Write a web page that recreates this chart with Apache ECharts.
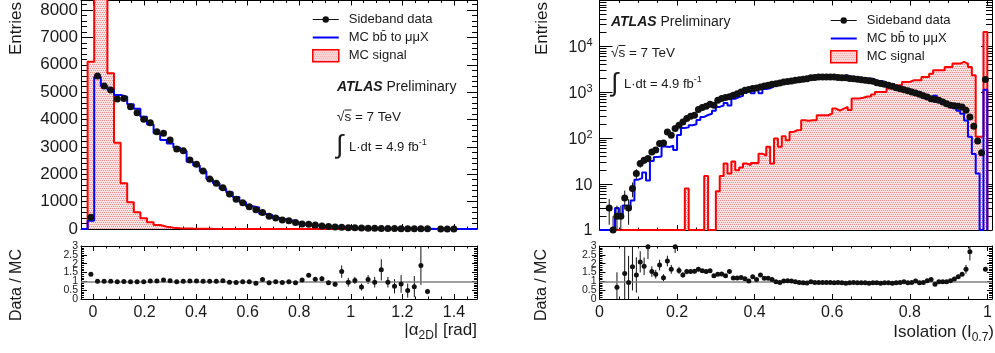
<!DOCTYPE html>
<html lang="en">
<head>
<meta charset="utf-8">
<title>ATLAS Preliminary - sideband data vs MC</title>
<script src="https://cdn.jsdelivr.net/npm/echarts@6.0.0/dist/echarts.min.js"></script>
<style>
  html, body { margin: 0; padding: 0; background: #fff; }
  #chart { width: 995px; height: 353px; }
</style>
</head>
<body>
<div id="chart"></div>
<script>
// ---- left panel: |alpha_2D| [rad], 60 bins spanning the frame ----
const L_MIN = -0.0465;
const L_MAX = 1.4895;
const L_BIN = 0.0256;
const leftXLabels = [0, 0.2, 0.4, 0.6, 0.8, 1, 1.2, 1.4];
const leftData = [
  null, 426, 5590, 5224, 5077, 4749, 4773, 4469, 4250, 4006,
  3884, 3556, 3495, 3251, 2922, 2861, 2520, 2362, 2119, 1826,
  1668, 1510, 1278, 1084, 962, 816, 700, 600, 470, 400,
  330, 300, 235, 185, 170, 145, 110, 90, 75, 60,
  50, 42, 35, 30, 25, 20, 18, 15, 12, 10,
  8, 6, 5, null, 3, 3, 2, null, null, null
];
const leftMC = [
  0, 305, 5560, 5230, 5080, 4900, 4830, 4560, 4390, 4100,
  3820, 3500, 3250, 3120, 2980, 2850, 2460, 2320, 2110, 1830,
  1670, 1470, 1340, 1170, 990, 830, 790, 545, 510, 412,
  355, 310, 255, 171, 126, 129, 96, 98, 90, 39,
  53, 40, 51, 27, 26, 12, 19, 21, 14, 21,
  11, 3, 12, 0, 0, 0, 0, 0, 0, 0
];
const leftSignal = [
  0, 6110, 12000, 10500, 5690, 3150, 1670, 975, 610, 390,
  245, 146, 85, 50, 30, 20, 14, 10, 7, 5,
  4, 3, 2, 2, 1, 1, 0, 0, 0, 0,
  0, 0, 0, 0, 0, 0, 0, 0, 0, 0,
  0, 0, 0, 0, 0, 0, 0, 0, 0, 0,
  0, 0, 0, 0, 0, 0, 0, 0, 0, 0
];
const leftRatio = [
  null, 1.40, 1.0, 1.0, 1.0, 0.97, 0.99, 0.98, 0.97, 0.98,
  1.02, 1.02, 1.08, 1.04, 0.98, 1.0, 1.02, 1.02, 1.0, 1.0,
  1.0, 1.03, 0.95, 0.93, 0.97, 0.98, 0.89, 1.1, 0.92, 0.97,
  0.93, 0.97, 0.92, 1.08, 1.35, 1.12, 1.15, 0.92, 0.83, 1.55,
  0.95, 1.05, 0.68, 1.1, 0.95, 1.65, 0.95, 0.72, 0.85, 0.48,
  0.7, 1.9, 0.42, null, null, null, null, null, null, null
];
const leftRatioErr = [
  null, 0.08, 0.02, 0.02, 0.02, 0.02, 0.02, 0.02, 0.02, 0.02,
  0.02, 0.02, 0.03, 0.03, 0.03, 0.03, 0.03, 0.03, 0.03, 0.03,
  0.04, 0.04, 0.04, 0.04, 0.05, 0.05, 0.05, 0.06, 0.06, 0.07,
  0.07, 0.08, 0.08, 0.1, 0.1, 0.12, 0.15, 0.12, 0.12, 0.35,
  0.25, 0.2, 0.2, 0.25, 0.3, 0.6, 0.3, 0.4, 0.5, 0.4,
  0.6, 1.1, 0.15, null, null, null, null, null, null, null
];

// ---- right panel: isolation I_0.7, bins of 0.01 ----
const R_MIN = 0;
const R_MAX = 1.012;
const R_BIN = 0.01;
const rightXLabels = [0, 0.2, 0.4, 0.6, 0.8, 1];
const rightData = [
  null, null, 3, 1, 2, 2, 5, 3, 8, 17,
  28, 33, 36, 50, 55, 77, 79, 137, 116, 162,
  192, 226, 267, 300, 316, 420, 464, 496, 548, 522,
  672, 731, 770, 795, 862, 933, 1010, 1105, 1150, 1203,
  1240, 1300, 1374, 1430, 1493, 1540, 1596, 1679, 1720, 1763,
  1830, 1884, 1930, 1983, 2084, 2110, 2154, 2150, 2154, 2160,
  2154, 2090, 2084, 2084, 2000, 1983, 1930, 1884, 1823, 1780,
  1735, 1622, 1560, 1493, 1420, 1350, 1262, 1200, 1143, 1080,
  1016, 960, 905, 840, 793, 728, 700, 670, 616, 560,
  521, 510, 496, 480, 406, 290, 182, 87, 48, 1910
];
const rightDataErr = [
  0, 0, 1.7, 1, 1.4, 1.4, 2.2, 1.7, 2.8, 4.1,
  5.3, 5.7, 6, 7, 7.4, 8.8, 8.9, 11.7, 10.8, 12.7,
  13.9, 15, 16.3, 17.3, 17.8
];
const rightMC = [
  1, 1, 1, 1, 3, 2, 3.4, 3.2, 4.4, 12.5,
  13.5, 18, 12, 32, 39, 40, 66, 64, 69, 55,
  118, 166, 172, 192, 201, 250, 290, 320, 342, 395,
  480, 515, 583, 513, 724, 784, 835, 961, 1127, 955,
  1117, 956, 1174, 1222, 1345, 1571, 1698, 1646, 1654, 1728,
  1867, 2004, 2098, 2179, 2126, 2245, 2291, 2287, 2291, 2298,
  2341, 2223, 2265, 2342, 2174, 2110, 2098, 2048, 1982, 2000,
  1886, 1763, 1753, 1623, 1543, 1517, 1372, 1277, 1166, 1174,
  1081, 941, 984, 894, 763, 656, 843, 684, 629, 571,
  501, 451, 394, 343, 242, 108, 45, 17, 1, 1137
];
const rightSignal = [
  1, 1, 1, 1, 1, 1, 1, 1, 1, 1,
  1, 1, 1, 1, 1, 1, 1, 1, 1, 1,
  1, 1, 8, 1, 1, 1, 1, 15, 1, 1,
  7, 15, 28, 17, 31, 20, 23, 28, 26, 29,
  29, 46, 42, 65, 28, 98, 65, 110, 90, 137,
  149, 150, 245, 240, 245, 245, 316, 316, 316, 345,
  441, 400, 441, 480, 410, 730, 730, 760, 808, 808,
  900, 1016, 1016, 1016, 1203, 1203, 1430, 1430, 1680, 1680,
  1823, 1823, 1823, 2154, 2154, 2540, 3010, 3010, 3010, 3570,
  3570, 4230, 4230, 4600, 4230, 3570, 2360, 107, 107, 20600
];
const rightRatio = [
  null, null, null, null, 0.66, null, 1.45, 0.94, 1.83, 1.36,
  2.1, 1.85, 2.96, 1.55, 1.4, 1.92, 1.2, 2.15, 1.68, 2.96,
  1.62, 1.36, 1.55, 1.56, 1.57, 1.68, 1.60, 1.55, 1.60, 1.32,
  1.40, 1.42, 1.32, 1.55, 1.19, 1.19, 1.21, 1.15, 1.02, 1.26,
  1.11, 1.36, 1.17, 1.17, 1.11, 0.98, 0.94, 1.02, 1.04, 1.02,
  0.98, 0.94, 0.92, 0.91, 0.98, 0.94, 0.94, 0.94, 0.94, 0.94,
  0.92, 0.94, 0.92, 0.89, 0.92, 0.94, 0.92, 0.92, 0.92, 0.89,
  0.92, 0.92, 0.89, 0.92, 0.92, 0.89, 0.92, 0.94, 0.98, 0.92,
  0.94, 1.02, 0.92, 0.94, 1.04, 1.11, 0.83, 0.98, 0.98, 0.98,
  1.04, 1.13, 1.26, 1.4, 1.68, 2.68, null, null, null, 1.68
];
const rightRatioErr = [
  null, null, null, null, 0.85, null, 1.6, 1.5, 1.35, 1.0,
  0.6, 0.5, 0.7, 0.3, 0.25, 0.3, 0.2, 0.3, 0.25, 0.35,
  0.2, 0.15, 0.15, 0.12, 0.12, 0.1, 0.1, 0.1, 0.09, 0.08,
  0.08, 0.08, 0.07, 0.07, 0.06, 0.06, 0.05, 0.05, 0.05, 0.05,
  0.04, 0.04, 0.04, 0.04, 0.04, 0.04, 0.04, 0.04, 0.04, 0.04,
  0.03, 0.03, 0.03, 0.03, 0.03, 0.03, 0.03, 0.03, 0.03, 0.03,
  0.03, 0.03, 0.03, 0.03, 0.03, 0.03, 0.03, 0.03, 0.03, 0.03,
  0.03, 0.03, 0.03, 0.03, 0.03, 0.03, 0.03, 0.03, 0.03, 0.03,
  0.03, 0.03, 0.03, 0.03, 0.03, 0.03, 0.03, 0.03, 0.03, 0.03,
  0.04, 0.04, 0.04, 0.04, 0.25, 0.5, null, null, null, 0.06
];
const ratioYLabels = [0, 0.5, 1, 1.5, 2, 2.5, 3];

const FONT = '"Liberation Sans", Arial, Helvetica, sans-serif';
const INK = '#000';
const TEXT = '#1a1a1a';
const RED = '#ff0000';
const BLUE = '#0000ff';
const DOT = '#111';
const MC_NAME = 'MC bb\u0304 to \u03bc\u03bcX';

function binEdges(min, width, n) {
  const e = [];
  for (let i = 0; i <= n; i++) e.push(min + i * width);
  return e;
}

function binCenters(edges) {
  return edges.slice(0, -1).map(function (e, i) { return (e + edges[i + 1]) / 2; });
}

// tick positions only (frame decoration)
function tickRange(min, max, step) {
  const out = [];
  for (let i = Math.ceil(min / step - 1e-9); i * step <= max + 1e-9; i++) out.push(+(i * step).toFixed(4));
  return out;
}

const leftEdges = binEdges(L_MIN, L_BIN, leftMC.length);
const leftCenters = binCenters(leftEdges);
const rightEdges = binEdges(R_MIN, R_BIN, rightMC.length);
const rightCenters = binCenters(rightEdges);

const logMinor = [];
for (let d = 1; d < 1e5; d *= 10) {
  for (let m = 2; m <= 9; m++) logMinor.push(m * d);
}

// ROOT-like dotted pink fill
function hatchPattern() {
  const c = document.createElement('canvas');
  c.width = 4;
  c.height = 4;
  const g = c.getContext('2d');
  g.fillStyle = '#fde3e3';
  g.fillRect(0, 0, 4, 4);
  g.fillStyle = '#ee8a8a';
  g.fillRect(0, 0, 1, 1);
  g.fillRect(2, 0, 1, 1);
  g.fillRect(1, 2, 1, 1);
  g.fillRect(3, 2, 1, 1);
  return { image: c, repeat: 'repeat' };
}
const SIGNAL_FILL = hatchPattern();

// ---- axes: every frame edge carries inward ticks ----
const xAxes = [];
const yAxes = [];

function axisBase(type, grid, position, min, max) {
  return {
    type: type,
    gridIndex: grid,
    position: position,
    min: min,
    max: max,
    axisLine: { show: true, onZero: false, lineStyle: { color: INK, width: 1 } },
    axisTick: { show: false },
    axisLabel: { show: false },
    splitLine: { show: false }
  };
}

function ticks(length, values) {
  const t = { show: true, inside: true, length: length, lineStyle: { color: INK, width: 1 } };
  if (values) t.customValues = values;
  return t;
}

function addXFrame(grid, min, max, major, minor, labels) {
  const first = xAxes.length;
  ['bottom', 'top'].forEach(function (pos) {
    const a = axisBase('value', grid, pos, min, max);
    a.axisTick = ticks(5, major);
    if (labels && pos === 'bottom') {
      a.axisLabel = { show: true, customValues: labels, margin: 6, color: TEXT, fontFamily: FONT, fontSize: 16 };
    }
    const b = axisBase('value', grid, pos, min, max);
    b.axisLine = { show: false, onZero: false };
    b.axisTick = ticks(2.5, minor);
    xAxes.push(a, b);
  });
  return first;
}

function yLabel(cfg, values) {
  const l = Object.assign({ show: true, color: TEXT, fontFamily: FONT, hideOverlap: false }, cfg.label);
  if (values) l.customValues = values;
  return l;
}

function addYFrame(grid, cfg) {
  const first = yAxes.length;
  ['left', 'right'].forEach(function (pos, side) {
    const a = axisBase(cfg.type, grid, pos, cfg.min, cfg.max);
    a.axisTick = ticks(cfg.major[side]);
    if (cfg.interval) a.interval = cfg.interval;
    if (cfg.minorSplit) {
      a.minorTick = { show: true, splitNumber: cfg.minorSplit, length: cfg.minor[side], lineStyle: { color: INK, width: 1 } };
    }
    if (side === 0) a.axisLabel = yLabel(cfg, cfg.labelSets ? cfg.labelSets[0] : null);
    yAxes.push(a);
    if (cfg.minorValues) {
      const b = axisBase(cfg.type, grid, pos, cfg.min, cfg.max);
      b.axisLine = { show: false, onZero: false };
      b.axisTick = ticks(cfg.minor[side], cfg.minorValues);
      yAxes.push(b);
    }
    // second set of labels on an overlaid axis, so crowded labels are all kept
    if (side === 0 && cfg.labelSets) {
      const c = axisBase(cfg.type, grid, pos, cfg.min, cfg.max);
      c.axisLine = { show: false, onZero: false };
      c.axisLabel = yLabel(cfg, cfg.labelSets[1]);
      yAxes.push(c);
    }
  });
  return first;
}

function plainLabel(v) {
  return String(v);
}

function logLabel(v) {
  const p = Math.round(Math.log10(v));
  return p < 2 ? '{b|' + v + '}' : '{b|10}{sup|' + p + '}';
}

const leftMinor = tickRange(L_MIN, L_MAX, 0.05);
const rightMinor = tickRange(R_MIN, R_MAX, 0.05);

const lxMain = addXFrame(0, L_MIN, L_MAX, leftXLabels, leftMinor, null);
const lxRatio = addXFrame(1, L_MIN, L_MAX, leftXLabels, leftMinor, leftXLabels);
const rxMain = addXFrame(2, R_MIN, R_MAX, rightXLabels, rightMinor, null);
const rxRatio = addXFrame(3, R_MIN, R_MAX, rightXLabels, rightMinor, rightXLabels);

const ratioFrame = {
  type: 'value', min: 0, max: 3, interval: 0.5, minorSplit: 5, major: [6, 5], minor: [3, 3],
  labelSets: [
    ratioYLabels.filter(function (v) { return v % 1 === 0; }),
    ratioYLabels.filter(function (v) { return v % 1 !== 0; })
  ],
  label: { fontSize: 10.5, margin: 3, formatter: plainLabel, showMinLabel: true, showMaxLabel: true }
};
const lyMain = addYFrame(0, {
  type: 'value', min: 0, max: 8350, interval: 1000, minorSplit: 5, major: [12, 10], minor: [6, 5],
  label: { fontSize: 17, margin: 3, showMaxLabel: false, formatter: plainLabel }
});
const lyRatio = addYFrame(1, ratioFrame);
const ryMain = addYFrame(2, {
  type: 'log', min: 1, max: 100000, major: [13, 11], minor: [7, 6], minorValues: logMinor,
  label: {
    margin: 7, showMaxLabel: false, formatter: logLabel,
    rich: {
      b: { fontSize: 16, fontFamily: FONT, color: TEXT, verticalAlign: 'bottom', lineHeight: 18 },
      sup: { fontSize: 11, fontFamily: FONT, color: TEXT, verticalAlign: 'top', lineHeight: 11, padding: [0, 0, 9, 0] }
    }
  }
});
const ryRatio = addYFrame(3, ratioFrame);

// ---- series ----
function histogram(name, xi, yi, edges, values, floor, color, fill, z) {
  const pts = values.map(function (v, i) { return [edges[i], v]; });
  pts.push([edges[values.length], floor]);
  const s = {
    name: name, type: 'line', xAxisIndex: xi, yAxisIndex: yi, step: 'end', data: pts,
    symbol: 'none', clip: true, z: z,
    lineStyle: { color: color, width: 2 }, itemStyle: { color: color }
  };
  if (fill) s.areaStyle = { color: fill, opacity: 1 };
  return s;
}

function markers(name, xi, yi, centers, values, size, extra) {
  const pts = [];
  values.forEach(function (v, i) { if (v != null) pts.push([centers[i], v]); });
  return Object.assign({
    name: name, type: 'scatter', xAxisIndex: xi, yAxisIndex: yi, data: pts,
    symbol: 'circle', symbolSize: size, clip: true, z: 5, itemStyle: { color: DOT, opacity: 1 }
  }, extra);
}

function errorBars(xi, yi, centers, values, errs, floor) {
  const rows = [];
  values.forEach(function (v, i) { if (v != null && errs[i]) rows.push([centers[i], v, errs[i]]); });
  return {
    type: 'custom', xAxisIndex: xi, yAxisIndex: yi, data: rows, clip: true, silent: true, z: 4,
    renderItem: function (params, api) {
      const x = api.value(0), y = api.value(1), e = api.value(2);
      const hi = api.coord([x, y + e]);
      const lo = api.coord([x, Math.max(y - e, floor)]);
      return {
        type: 'line',
        shape: { x1: hi[0], y1: hi[1], x2: lo[0], y2: lo[1] },
        style: { stroke: DOT, lineWidth: 1 }
      };
    }
  };
}

const ratioLine = {
  silent: true, symbol: 'none', label: { show: false },
  lineStyle: { color: '#808080', width: 1.5, type: 'solid' },
  data: [{ yAxis: 1 }]
};

const legendBase = {
  orient: 'vertical', itemWidth: 26, itemHeight: 12, itemGap: 5, selectedMode: false,
  itemStyle: { borderWidth: 0 },
  textStyle: { fontSize: 13, fontFamily: FONT, color: TEXT, padding: [0, 0, 0, 5] },
  data: [
    { name: 'Sideband data', icon: 'path://M0,5.4h9.9v1.2H0z M16.1,5.4H26v1.2H16.1z M9.8,6a3.2,3.2 0 1,1 6.4,0a3.2,3.2 0 1,1 -6.4,0z' },
    { name: MC_NAME, icon: 'path://M0,0h26v2H0z' },
    { name: 'MC signal', icon: 'rect', itemStyle: { color: SIGNAL_FILL, borderColor: RED, borderWidth: 1.5 } }
  ]
};

// ---- free text ----
function txt(x, y, text, style, rotation) {
  return {
    type: 'text', x: x, y: y, rotation: rotation || 0, silent: true,
    style: Object.assign({ text: text, fill: TEXT, fontFamily: FONT, fontSize: 13, align: 'left', verticalAlign: 'middle' }, style)
  };
}
function overline(x1, x2, y) {
  return { type: 'line', silent: true, shape: { x1: x1, y1: y, x2: x2, y2: y }, style: { stroke: TEXT, lineWidth: 1 } };
}
const atlasRich = { b: { fontSize: 14, fontWeight: 'bold', fontStyle: 'italic', fontFamily: FONT, fill: TEXT } };
const lumiRich = {
  m: { fontSize: 13, fontFamily: FONT, fill: TEXT, lineHeight: 16, verticalAlign: 'bottom' },
  p: { fontSize: 9, fontFamily: FONT, fill: TEXT, lineHeight: 9, verticalAlign: 'top', padding: [0, 0, 9, 0] }
};
const titleRich = {
  m: { fontSize: 17, fontFamily: FONT, fill: TEXT, lineHeight: 20, verticalAlign: 'top' },
  s: { fontSize: 12, fontFamily: FONT, fill: TEXT, lineHeight: 14, verticalAlign: 'bottom', padding: [8, 0, 0, 0] }
};
const lumiText = '{m|L\u00b7dt = 4.9 fb}{p|-1}';

const graphics = [
  txt(16, 55, 'Entries', { fontSize: 17 }, Math.PI / 2),
  txt(542, 55, 'Entries', { fontSize: 17 }, Math.PI / 2),
  txt(17, 285, 'Data / MC', { fontSize: 16, align: 'center' }, Math.PI / 2),
  txt(542, 285, 'Data / MC', { fontSize: 16, align: 'center' }, Math.PI / 2),
  txt(477, 332, '{m||\u03b1}{s|2D}{m|| [rad]}', { align: 'right', rich: titleRich }),
  txt(994, 334, '{m|Isolation (I}{s|0.7}{m|)}', { align: 'right', rich: titleRich }),

  txt(337, 87.5, '{b|ATLAS} Preliminary', { fontSize: 14, rich: atlasRich }),
  txt(337, 117.5, '\u221as = 7 TeV', { fontSize: 13.5 }),
  overline(344.5, 351.5, 110),
  txt(336, 146, '\u222b', { fontSize: 26 }),
  txt(349, 146, lumiText, { rich: lumiRich }),

  txt(611, 22.5, '{b|ATLAS} Preliminary', { fontSize: 14, rich: atlasRich }),
  txt(611, 53, '\u221as = 7 TeV', { fontSize: 13.5 }),
  overline(618.5, 625.5, 45.5),
  txt(611, 84, '\u222b', { fontSize: 26 }),
  txt(624, 83, lumiText, { rich: lumiRich })
];

const chart = echarts.init(document.getElementById('chart'));
chart.setOption({
  animation: false,
  backgroundColor: '#fff',
  grid: [
    { left: 81, top: 0.5, width: 396, height: 228.5, containLabel: false, outerBoundsMode: 'none' },
    { left: 81, top: 246, width: 396, height: 53, containLabel: false, outerBoundsMode: 'none' },
    { left: 599.5, top: 0.5, width: 392.5, height: 229.5, containLabel: false, outerBoundsMode: 'none' },
    { left: 599.5, top: 246, width: 392.5, height: 53, containLabel: false, outerBoundsMode: 'none' }
  ],
  xAxis: xAxes,
  yAxis: yAxes,
  legend: [
    Object.assign({ left: 307, top: 8 }, legendBase),
    Object.assign({ left: 825, top: 9 }, legendBase)
  ],
  graphic: graphics,
  series: [
    histogram('MC signal', lxMain, lyMain, leftEdges, leftSignal, 0, RED, SIGNAL_FILL, 2),
    histogram(MC_NAME, lxMain, lyMain, leftEdges, leftMC, 0, BLUE, null, 3),
    markers('Sideband data', lxMain, lyMain, leftCenters, leftData, 7),
    errorBars(lxRatio, lyRatio, leftCenters, leftRatio, leftRatioErr, -1),
    markers('ratio left', lxRatio, lyRatio, leftCenters, leftRatio, 5, { markLine: ratioLine }),

    histogram('MC signal', rxMain, ryMain, rightEdges, rightSignal, 1, RED, SIGNAL_FILL, 2),
    histogram(MC_NAME, rxMain, ryMain, rightEdges, rightMC, 1, BLUE, null, 3),
    errorBars(rxMain, ryMain, rightCenters, rightData, rightDataErr, 0.3),
    markers('Sideband data', rxMain, ryMain, rightCenters, rightData, 7),
    errorBars(rxRatio, ryRatio, rightCenters, rightRatio, rightRatioErr, -1),
    markers('ratio right', rxRatio, ryRatio, rightCenters, rightRatio, 5, { markLine: ratioLine })
  ]
});
</script>
</body>
</html>
